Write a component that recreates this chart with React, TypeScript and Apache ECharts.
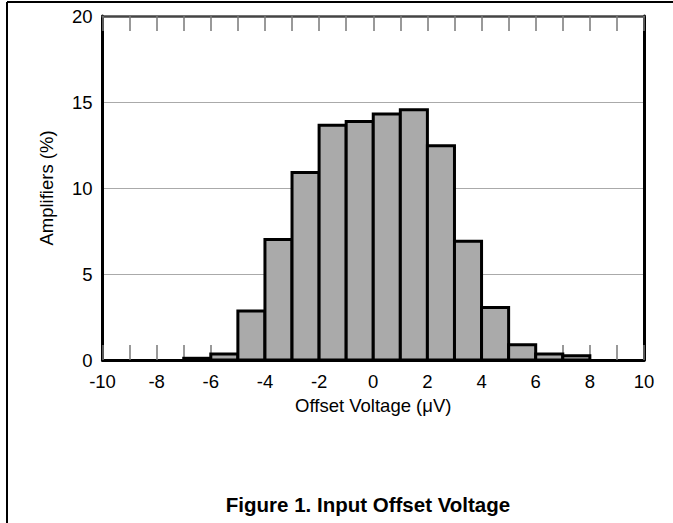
import React, { useEffect, useRef } from "react";
import * as echarts from "echarts";

// Histogram bins: each bin spans [start, start + 1) µV
const binStarts = [-10, -9, -8, -7, -6, -5, -4, -3, -2, -1, 0, 1, 2, 3, 4, 5, 6, 7, 8, 9];
const amplifiersPct = [0, 0, 0, 0.1, 0.35, 2.85, 7.0, 10.9, 13.65, 13.87, 14.3, 14.55, 12.45, 6.9, 3.05, 0.88, 0.35, 0.25, 0, 0];

const xMin = -10;
const xMax = 10;
const yMin = 0;
const yMax = 20;

const FONT = "'Liberation Sans', Arial, Helvetica, sans-serif";

export default function App() {
  const ref = useRef<HTMLDivElement>(null);

  useEffect(() => {
    if (!ref.current) return;
    const chart = echarts.init(ref.current, null, { renderer: "svg" });
    const data = binStarts.map((s, i) => [s, s + 1, amplifiersPct[i]]);

    chart.setOption({
      animation: false,
      backgroundColor: "#ffffff",
      grid: { left: 102.5, right: 29, top: 16, bottom: 163, containLabel: false },
      xAxis: [
        {
          type: "value",
          position: "bottom",
          min: xMin,
          max: xMax,
          interval: 1,
          name: "Offset Voltage (\u03bcV)",
          nameLocation: "middle",
          nameGap: 34,
          nameTextStyle: { fontFamily: FONT, fontSize: 18.5, color: "#000" },
          axisLine: { show: true, onZero: false, lineStyle: { color: "#000", width: 3 } },
          axisTick: { show: true, inside: true, length: 15, lineStyle: { color: "#777", width: 1.5 } },
          axisLabel: {
            fontFamily: FONT,
            fontSize: 18.5,
            color: "#000",
            margin: 12,
            formatter: (v: number) => (v % 2 === 0 ? String(v) : ""),
          },
          splitLine: { show: false },
        },
        {
          type: "value",
          position: "top",
          min: xMin,
          max: xMax,
          interval: 1,
          axisLine: { show: true, onZero: false, lineStyle: { color: "#444", width: 2.5 } },
          axisTick: { show: true, inside: true, length: 15, lineStyle: { color: "#777", width: 1.5 } },
          axisLabel: { show: false },
          splitLine: { show: false },
        },
      ],
      yAxis: [
        {
          type: "value",
          position: "left",
          min: yMin,
          max: yMax,
          interval: 5,
          name: "Amplifiers (%)",
          nameLocation: "middle",
          nameGap: 47,
          nameRotate: 90,
          nameTextStyle: { fontFamily: FONT, fontSize: 18.5, color: "#000" },
          axisLine: { show: true, onZero: false, lineStyle: { color: "#000", width: 3 } },
          axisTick: { show: false },
          axisLabel: { fontFamily: FONT, fontSize: 18.5, color: "#000", margin: 10 },
          splitLine: { show: true, lineStyle: { color: "#aaaaaa", width: 1 } },
        },
        {
          type: "value",
          position: "right",
          min: yMin,
          max: yMax,
          interval: 5,
          axisLine: { show: true, onZero: false, lineStyle: { color: "#000", width: 3 } },
          axisTick: { show: false },
          axisLabel: { show: false },
          splitLine: { show: false },
        },
      ],
      series: [
        {
          type: "custom",
          xAxisIndex: 0,
          yAxisIndex: 0,
          encode: { x: [0, 1], y: 2 },
          data,
          renderItem: (_params: any, api: any) => {
            const x0 = api.value(0);
            const x1 = api.value(1);
            const v = api.value(2);
            if (!(v > 0)) return null;
            const top = api.coord([x0, v]);
            const bottom = api.coord([x1, 0]);
            return {
              type: "rect",
              shape: {
                x: top[0],
                y: top[1],
                width: bottom[0] - top[0],
                height: bottom[1] - top[1],
              },
              style: { fill: "#aaaaaa", stroke: "#000000", lineWidth: 3 },
            };
          },
        },
      ],
      graphic: [
        {
          type: "line",
          shape: { x1: 7, y1: 2, x2: 673, y2: 2 },
          style: { stroke: "#000", lineWidth: 2 },
          silent: true,
        },
        {
          type: "line",
          shape: { x1: 7, y1: 2, x2: 7, y2: 523 },
          style: { stroke: "#000", lineWidth: 2 },
          silent: true,
        },
        {
          type: "text",
          x: 368,
          y: 504,
          style: {
            text: "Figure 1. Input Offset Voltage",
            fontFamily: FONT,
            fontSize: 20.5,
            fontWeight: "bold",
            fill: "#000",
            textAlign: "center",
            textVerticalAlign: "middle",
          },
          silent: true,
        },
      ],
    });

    return () => chart.dispose();
  }, []);

  return (
    <div
      ref={ref}
      style={{ position: "fixed", left: 0, top: 0, width: 673, height: 523, background: "#fff" }}
    />
  );
}
